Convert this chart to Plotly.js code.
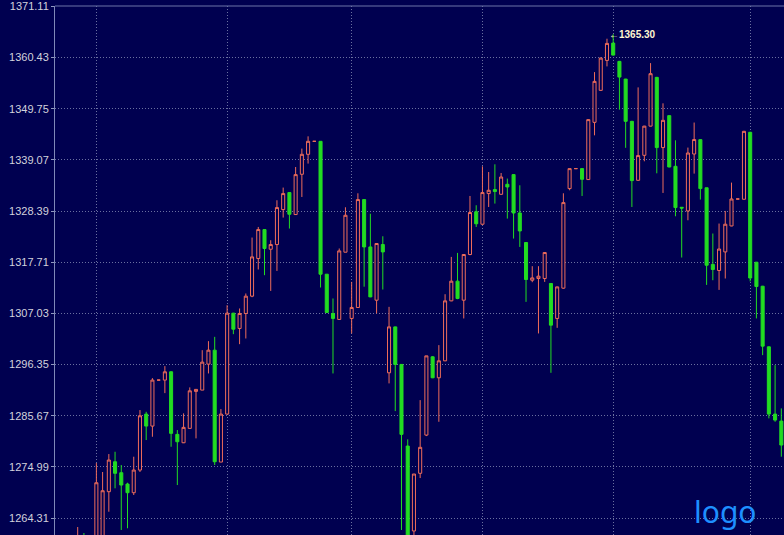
<!DOCTYPE html>
<html><head><meta charset="utf-8">
<script src="https://cdn.plot.ly/plotly-3.0.1.min.js"></script>
<style>html,body{margin:0;padding:0;background:#000050;}#chart{width:784px;height:535px;}</style>
</head><body><div id="chart"></div>
<script>
const openPrices = [1255.55,1260.35,1255.55,1258.68,1259.72,1269.80,1276.05,1273.76,1271.40,1269.59,
1274.32,1286.00,1283.50,1293.10,1293.10,1294.83,1281.77,1280.02,1283.02,1290.74,
1291.01,1296.43,1299.35,1275.99,1286.00,1307.07,1303.88,1307.01,1310.62,1318.48,
1324.53,1320.42,1321.40,1328.70,1332.25,1327.66,1336.07,1340.24,1342.95,1342.95,
1315.21,1307.01,1305.76,1319.80,1305.97,1308.26,1330.79,1320.90,1309.78,1321.40,
1294.62,1304.21,1296.37,1279.33,1261.60,1273.64,1281.62,1297.96,1293.58,1297.12,
1309.64,1313.75,1309.78,1319.32,1328.24,1325.64,1332.04,1332.87,1331.89,1333.98,
1336.00,1327.99,1321.82,1313.95,1314.31,1314.31,1313.27,1305.97,1312.29,1333.08,
1337.25,1337.25,1334.96,1346.91,1353.59,1359.84,1363.45,1359.64,1355.94,1347.12,
1334.81,1340.03,1346.12,1356.30,1341.64,1348.31,1337.73,1329.18,1328.41,1340.30,
1343.30,1333.25,1317.25,1315.98,1319.86,1325.28,1330.91,1330.85,1344.83,1317.71,
1312.70,1300.04,1286.00,1284.54];
const highPrices = [1262.43,1261.18,1259.72,1275.78,1273.91,1277.66,1278.14,1275.37,1271.67,1277.10,
1286.84,1286.48,1293.51,1293.15,1296.02,1294.97,1282.67,1286.15,1291.57,1291.22,
1299.35,1301.23,1302.13,1287.05,1308.74,1307.13,1308.05,1311.18,1322.86,1325.07,
1324.59,1322.30,1330.64,1333.29,1332.31,1337.59,1341.43,1343.99,1343.00,1342.95,
1315.21,1310.14,1320.57,1329.18,1313.60,1332.10,1330.85,1327.83,1321.67,1323.13,
1308.39,1304.26,1296.43,1280.73,1273.49,1288.92,1298.16,1298.10,1300.40,1311.03,
1318.82,1319.65,1319.38,1331.54,1329.60,1337.73,1336.54,1338.15,1336.34,1335.17,
1336.07,1333.77,1321.88,1316.88,1316.88,1319.80,1313.33,1312.60,1332.10,1337.25,
1337.30,1337.25,1347.54,1357.40,1360.47,1364.37,1365.30,1359.74,1355.99,1347.22,
1354.21,1346.18,1359.28,1356.40,1350.88,1348.37,1343.16,1329.18,1341.64,1346.87,
1343.37,1333.25,1323.70,1325.78,1328.41,1334.33,1330.95,1345.14,1344.93,1317.77,
1312.77,1300.12,1296.22,1287.19];
const lowPrices = [1254.51,1256.59,1254.51,1257.64,1258.68,1265.62,1270.51,1261.81,1262.16,1269.11,
1273.91,1280.58,1281.27,1293.05,1290.38,1279.18,1271.19,1279.95,1283.02,1280.93,
1291.01,1294.49,1275.37,1275.99,1286.00,1302.69,1300.60,1301.79,1310.41,1316.19,
1315.00,1311.72,1315.89,1327.03,1324.74,1327.62,1331.33,1338.30,1342.90,1312.43,
1307.13,1294.49,1305.72,1319.80,1302.84,1308.22,1312.60,1310.41,1307.01,1312.01,
1292.41,1286.63,1261.81,1257.64,1258.68,1272.65,1281.41,1293.51,1284.40,1297.06,
1309.57,1309.99,1305.97,1319.17,1325.07,1325.53,1329.24,1329.95,1331.79,1326.82,
1322.65,1320.90,1309.43,1313.54,1302.84,1313.60,1294.62,1304.01,1312.18,1332.73,
1337.20,1331.54,1334.92,1344.20,1353.48,1358.59,1360.89,1349.56,1341.59,1329.24,
1334.71,1338.78,1346.08,1336.27,1332.17,1337.53,1327.30,1318.69,1326.47,1336.21,
1330.79,1312.97,1313.95,1311.93,1314.31,1325.22,1330.87,1330.85,1313.70,1305.97,
1298.31,1285.11,1284.40,1277.10];
const closePrices = [1259.72,1257.64,1258.68,1271.67,1270.00,1276.41,1273.64,1271.19,1269.59,1274.32,
1285.65,1283.50,1293.10,1293.10,1294.83,1281.98,1280.23,1283.23,1290.86,1291.16,
1296.85,1299.35,1276.05,1286.00,1307.07,1303.73,1307.01,1310.62,1318.82,1324.53,
1320.57,1321.40,1329.12,1332.04,1327.72,1336.00,1340.24,1342.95,1342.95,1315.21,
1307.22,1305.97,1320.07,1327.51,1308.26,1330.79,1320.90,1310.47,1321.61,1319.86,
1304.21,1296.37,1281.77,1258.68,1273.49,1279.06,1298.16,1293.58,1297.12,1309.64,
1313.75,1310.14,1319.32,1328.08,1325.74,1332.25,1332.73,1332.46,1335.50,1333.42,
1327.99,1324.24,1314.10,1314.43,1314.79,1319.73,1304.57,1312.56,1330.16,1337.25,
1337.25,1335.02,1347.48,1355.46,1360.32,1363.39,1360.95,1356.36,1347.12,1334.75,
1339.97,1346.12,1357.07,1341.64,1347.33,1337.59,1329.12,1329.01,1340.51,1343.32,
1333.08,1317.08,1316.19,1320.46,1325.64,1330.91,1330.91,1345.03,1314.41,1312.64,
1300.19,1286.00,1284.75,1279.54];
const priceTicks = [1264.31,1274.99,1285.67,1296.35,1307.03,1317.71,1328.39,1339.07,1349.75,1360.43,1371.11];
const monthStarts = [3,24,44,65,86,108];
const peakIndex = 86;
const peakValue = 1365.30;

const dayIndex = openPrices.map((_, i) => i);
const BG = '#000050';
const GRID = '#6a70a0';
const DOTS = '1px,2px';

const trace = {
  type: 'candlestick',
  x: dayIndex, open: openPrices, high: highPrices, low: lowPrices, close: closePrices,
  increasing: {line: {color: '#ee6c5a', width: 1}, fillcolor: BG},
  decreasing: {line: {color: '#22dc22', width: 1}, fillcolor: '#22dc22'},
  whiskerwidth: 0,
  hoverinfo: 'skip'
};

const layout = {
  width: 784, height: 535,
  margin: {l: 55, r: 0, t: 6, b: 0, pad: 0},
  paper_bgcolor: BG, plot_bgcolor: BG,
  showlegend: false,
  xaxis: {
    type: 'linear', range: [-3.645, 113.43], rangeslider: {visible: false},
    tickmode: 'array', tickvals: monthStarts, showticklabels: false, ticks: '',
    showgrid: true, gridcolor: GRID, griddash: DOTS, gridwidth: 1,
    zeroline: false, showline: false, fixedrange: true
  },
  yaxis: {
    range: [1260.76, 1371.2],
    tickmode: 'array', tickvals: priceTicks, ticktext: priceTicks.map(v => v.toFixed(2)),
    tickfont: {family: 'Liberation Sans, Arial, sans-serif', size: 11, color: '#d2d2dc'},
    ticks: 'outside', ticklen: 3, tickcolor: '#9098c0',
    showgrid: true, gridcolor: GRID, griddash: DOTS, gridwidth: 1,
    showline: true, linecolor: '#7f88b8', linewidth: 1, zeroline: false, fixedrange: true
  },
  shapes: [
    {type: 'line', xref: 'paper', yref: 'paper', x0: 0, x1: 1, y0: 1, y1: 1, line: {color: '#6c74a8', width: 1}}
  ],
  annotations: [
    {x: peakIndex, y: peakValue, xref: 'x', yref: 'y', text: '<b>←' + peakValue.toFixed(2) + '</b>',
     showarrow: false, xanchor: 'left', yanchor: 'middle', xshift: -6,
     font: {family: 'Liberation Sans, Arial, sans-serif', size: 10, color: '#fff6d0'}},
    {x: 0.92, y: 0.044, xref: 'paper', yref: 'paper', text: 'logo', showarrow: false,
     xanchor: 'center', yanchor: 'middle',
     font: {family: 'Noto Sans, Liberation Sans, sans-serif', size: 30, color: '#1e8fff'}}
  ]
};

Plotly.newPlot('chart', [trace], layout, {staticPlot: true, displayModeBar: false});
</script>
</body></html>
